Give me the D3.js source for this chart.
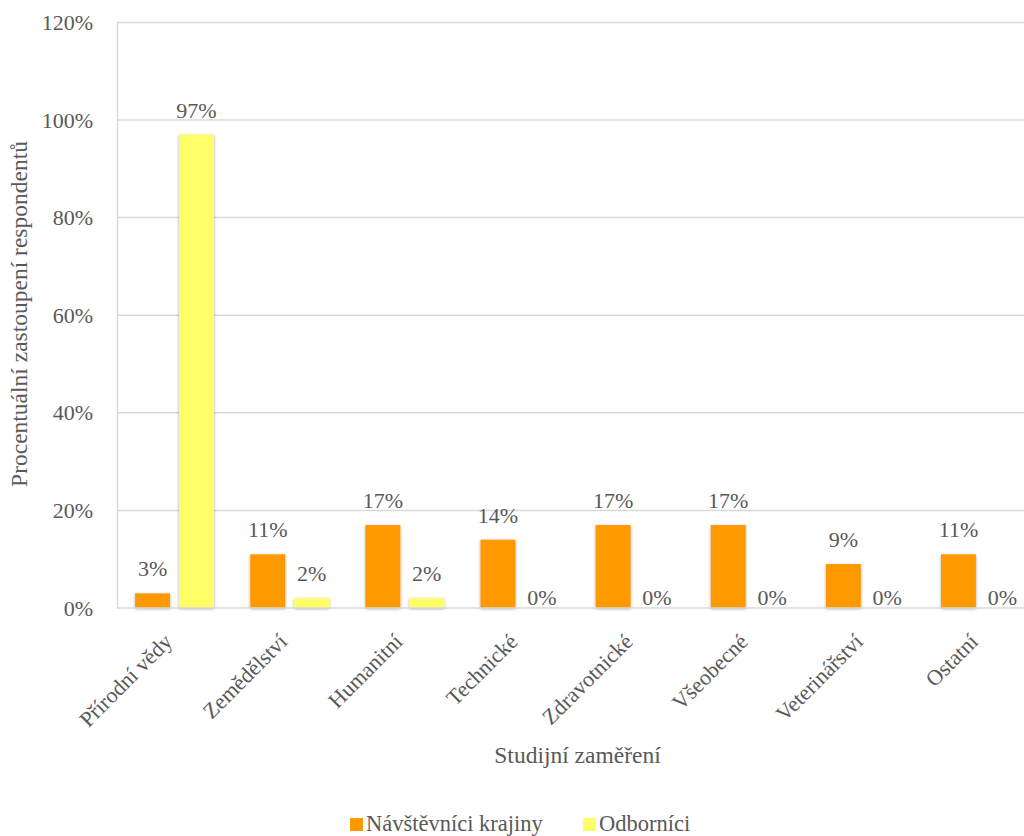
<!DOCTYPE html>
<html><head><meta charset="utf-8">
<script src="https://cdn.jsdelivr.net/npm/d3@7"></script>
<style>
html,body{margin:0;padding:0;background:#fff;}
svg{display:block;}
</style></head>
<body>
<svg id="chart" width="1024" height="836"></svg>
<script>
const categories = ["Přírodní vědy","Zemědělství","Humanitní","Technické","Zdravotnické","Všeobecné","Veterinářství","Ostatní"];
const seriesNames = ["Návštěvníci krajiny","Odborníci"];
const navstevnici = [3,11,17,14,17,17,9,11];
const odbornici = [97,2,2,0,0,0,0,0];
const yTicks = [0,20,40,60,80,100,120];
const colors = ["#FF9900","#FFFF66"];

(function(){
const FONT = '"Liberation Serif"';
const svg = d3.select("#chart");
const defs = svg.append("defs");
const f = defs.append("filter").attr("id","sh").attr("x","-30%").attr("y","-30%").attr("width","160%").attr("height","160%");
f.append("feDropShadow").attr("dx",0).attr("dy",1).attr("stdDeviation",1.6).attr("flood-color","#000").attr("flood-opacity",0.35);

const mLeft = 117, mRight = 1038, mTop = 22.4, mBottom = 608;
const fs = "22px", fsT = "23.5px";
const x = d3.scaleBand().domain(categories).range([mLeft,mRight]).paddingInner(0.315).paddingOuter(0.1575);
const xs = d3.scaleBand().domain(seriesNames).range([0,x.bandwidth()]).paddingInner(0.2045);
const y = d3.scaleLinear().domain([0,120]).range([mBottom,mTop]);
const textCol = "#595959";

// gridlines
svg.append("g").selectAll("line").data(yTicks.filter(d=>d>0)).join("line")
  .attr("x1",mLeft).attr("x2",1024).attr("y1",d=>y(d)).attr("y2",d=>y(d))
  .attr("stroke","#d9d9d9").attr("stroke-width",1.5);

// y axis
const yAxis = d3.axisLeft(y).tickValues(yTicks).tickFormat(d=>d+"%").tickSize(0).tickPadding(24);
const ya = svg.append("g").attr("transform",`translate(${mLeft},0)`).call(yAxis).attr("font-family",FONT);
ya.select(".domain").attr("stroke","#d9d9d9").attr("stroke-width",1.5);
ya.selectAll("text").attr("fill",textCol).style("font-size",fs).style("font-family",FONT);

// bars
const data = categories.map((c,i)=>({c, vals:[navstevnici[i],odbornici[i]]}));
const groups = svg.append("g").selectAll("g").data(data).join("g")
  .attr("transform",d=>`translate(${x(d.c)},0)`);
groups.selectAll("rect").data(d=>d.vals.map((v,j)=>({v,s:seriesNames[j],j}))).join("rect")
  .attr("x",d=>xs(d.s)).attr("width",xs.bandwidth())
  .attr("y",d=>y(d.v)).attr("height",d=>mBottom-y(d.v))
  .attr("fill",d=>colors[d.j]).attr("filter","url(#sh)");
groups.selectAll("text").data(d=>d.vals.map((v,j)=>({v,s:seriesNames[j],j}))).join("text")
  .attr("x",d=>xs(d.s)+xs.bandwidth()/2)
  .attr("y",d=>d.v===0 ? y(0)-3 : y(d.v)-17)
  .attr("text-anchor","middle").attr("fill",textCol)
  .style("font-size",fs).style("font-family",FONT)
  .text(d=>d.v+"%");

// x axis
const xAxis = d3.axisBottom(x).tickSize(0).tickPadding(0);
const xa = svg.append("g").attr("transform",`translate(0,${mBottom})`).call(xAxis).attr("font-family",FONT);
xa.select(".domain").attr("stroke","#d9d9d9").attr("stroke-width",1.5).attr("d",`M${mLeft},0H1024`);
xa.selectAll("text").attr("fill",textCol).style("font-size",fs).style("font-family",FONT)
  .attr("text-anchor","end").attr("dy",0).attr("y",0)
  .attr("transform","translate(-1,35) rotate(-45)");

// axis titles
svg.append("text").attr("x",(mLeft+mRight)/2).attr("y",763).attr("text-anchor","middle")
  .attr("fill",textCol).style("font-size",fsT).style("font-family",FONT).text("Studijní zaměření");
svg.append("text").attr("transform","translate(27,314) rotate(-90)").attr("text-anchor","middle")
  .attr("fill",textCol).style("font-size",fsT).style("font-family",FONT).text("Procentuální zastoupení respondentů");

// legend
const legX = [350,583];
const lg = svg.append("g").selectAll("g").data(seriesNames).join("g")
  .attr("transform",(d,i)=>`translate(${legX[i]},818)`);
lg.append("rect").attr("width",13).attr("height",13).attr("fill",(d,i)=>colors[i]);
lg.append("text").attr("x",16).attr("y",12.5).attr("fill",textCol)
  .style("font-size","22.5px").style("font-family",FONT).text(d=>d);
})();
</script>
</body></html>
